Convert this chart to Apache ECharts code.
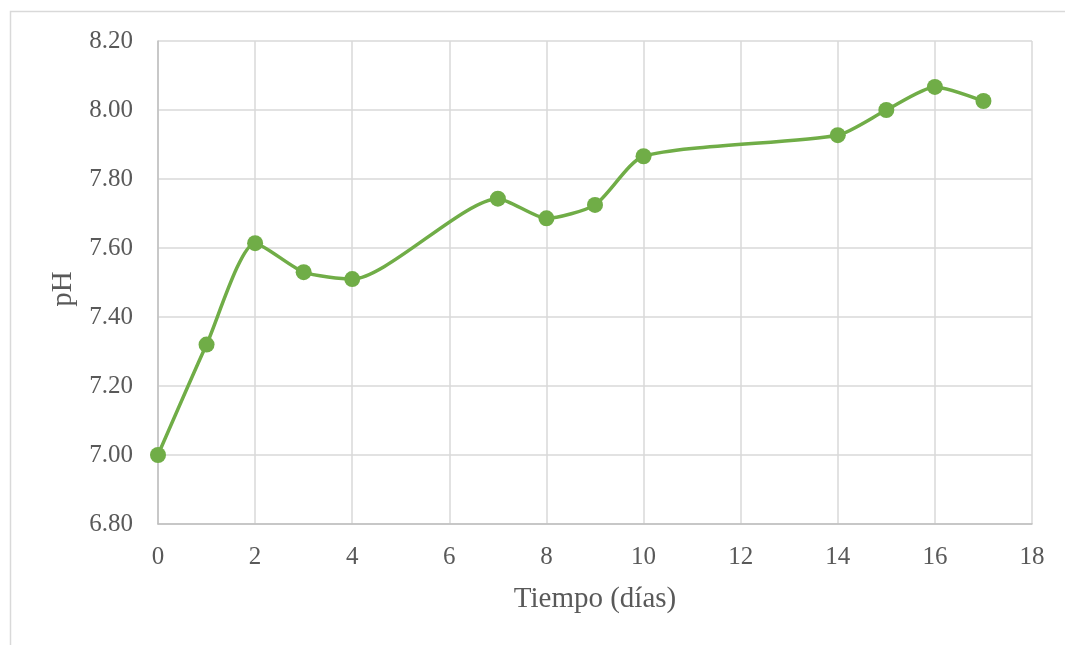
<!DOCTYPE html>
<html>
<head>
<meta charset="utf-8">
<script src="https://cdn.jsdelivr.net/npm/echarts@6/dist/echarts.min.js"></script>
<style>
  html, body { margin: 0; padding: 0; background: #fff; }
  #chart { width: 1065px; height: 645px; }
</style>
</head>
<body>
<div id="chart"></div>
<script>
// Días de muestreo y pH medido
const days = [0, 1, 2, 3, 4, 7, 8, 9, 10, 14, 15, 16, 17];
const phValues = [7.00, 7.32, 7.614, 7.53, 7.51, 7.743, 7.686, 7.725, 7.866, 7.927, 8.00, 8.067, 8.026];

const xTitle = 'Tiempo (días)';
const yTitle = 'pH';

const chart = echarts.init(document.getElementById('chart'));
const textColor = '#595959';
const serif = '"Liberation Serif", "Times New Roman", serif';

chart.setOption({
  animation: false,
  graphic: [{
    type: 'rect',
    left: 8, top: 9,
    shape: { width: 1070, height: 650 },
    style: { fill: 'none', stroke: '#d9d9d9', lineWidth: 1.5 },
    silent: true
  }],
  grid: { left: 158, right: 33, top: 41, bottom: 121 },
  xAxis: {
    type: 'value',
    min: 0, max: 18, interval: 2,
    name: xTitle,
    nameLocation: 'middle',
    nameGap: 61,
    nameTextStyle: { fontFamily: serif, fontSize: 29, color: textColor },
    axisLine: { show: true, lineStyle: { color: '#bfbfbf', width: 1.5 } },
    axisTick: { show: false },
    axisLabel: { fontFamily: serif, fontSize: 25, color: textColor, margin: 21 },
    splitLine: { show: true, lineStyle: { color: '#d9d9d9', width: 1.5 } }
  },
  yAxis: {
    type: 'value',
    min: 6.8, max: 8.2, interval: 0.2,
    name: yTitle,
    nameLocation: 'middle',
    nameGap: 80,
    nameTextStyle: {
      fontFamily: serif, fontSize: 29, color: textColor,
      padding: [0, 13, 0, 0]
    },
    axisLine: { show: true, lineStyle: { color: '#bfbfbf', width: 1.5 } },
    axisTick: { show: false },
    axisLabel: {
      fontFamily: serif, fontSize: 25, color: textColor, margin: 25,
      formatter: v => v.toFixed(2)
    },
    splitLine: { show: true, lineStyle: { color: '#d9d9d9', width: 1.5 } }
  },
  series: [{
    type: 'line',
    data: days.map((d, i) => [d, phValues[i]]),
    smooth: 0.22,
    symbol: 'circle',
    symbolSize: 16,
    itemStyle: { color: '#70ad47' },
    lineStyle: { color: '#70ad47', width: 3.5 }
  }]
});
</script>
</body>
</html>
